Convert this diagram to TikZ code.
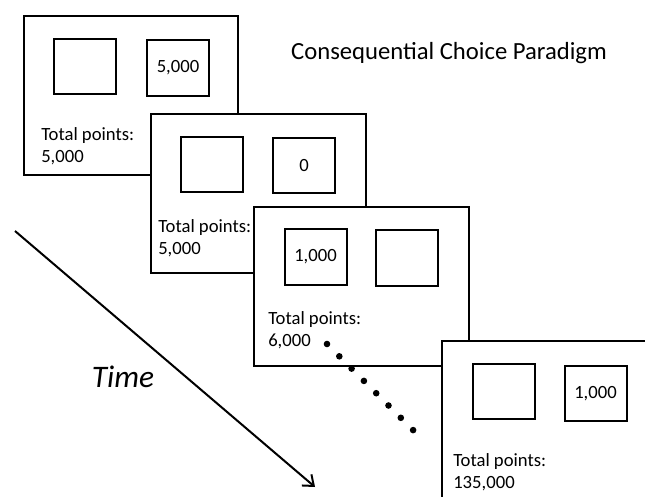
\documentclass[tikz,border=0pt]{standalone}
\usepackage{fontspec}
\setmainfont{Carlito}
\usepackage{tikz}
\usetikzlibrary{arrows.meta}

\begin{document}
\begin{tikzpicture}[x=0.75pt,y=0.75pt,yscale=-1,xscale=1,
        screen/.style={draw,line width=1.5pt,fill=white},
        card/.style={draw,line width=1.5pt,minimum width=46.5pt,minimum height=41.5pt,inner sep=0pt,font=\fontsize{14}{16}\selectfont},
        total/.style={anchor=west,align=left,inner sep=0pt,font=\fontsize{14}{16.5}\selectfont}]
        \clip (0,0) rectangle (645,496);

        % first trial
        \draw [screen] (24,16) rectangle (238,175);
        \node [card] (c1a) at (85,66.5) {};
        \node [card] (c1b) at (178,68) {5,000};
        \node [total] (p1) at (41,146) {Total points:\\5,000};

        % second trial
        \draw [screen] (151,114) rectangle (366,273);
        \node [card] (c2a) at (212,164.5) {};
        \node [card] (c2b) at (304,165.5) {0};
        \node [total] (p2) at (158,238) {Total points:\\5,000};

        % third trial
        \draw [screen] (254,207) rectangle (469,366);
        \node [card] (c3a) at (315.5,257) {1,000};
        \node [card] (c3b) at (407,258) {};
        \node [total] (p3) at (268,330) {Total points:\\6,000};

        % dots
        \foreach \i in {0,...,7}
            \fill (327+12.3*\i,344+12.3*\i) circle (3.3);

        % last trial
        \draw [screen] (442,341) rectangle (660,510);
        \node [card] (c4a) at (503.5,391.5) {};
        \node [card] (c4b) at (595.5,393.5) {1,000};
        \node [total] (p4) at (453,472.5) {Total points:\\135,000};

        \node [font=\fontsize{18.5}{22}\selectfont] (title) at (449,53) {Consequential Choice Paradigm};
        \node [font=\fontsize{23.5}{28}\selectfont\itshape] (time) at (123,377) {Time};

        \coordinate (t0) at (15,231);
        \coordinate (t1) at (315,487);
        \draw [line width=1.5pt,-{Straight Barb[length=7pt,width=11pt]}] (t0) -- (t1);
    \end{tikzpicture}
\end{document}
